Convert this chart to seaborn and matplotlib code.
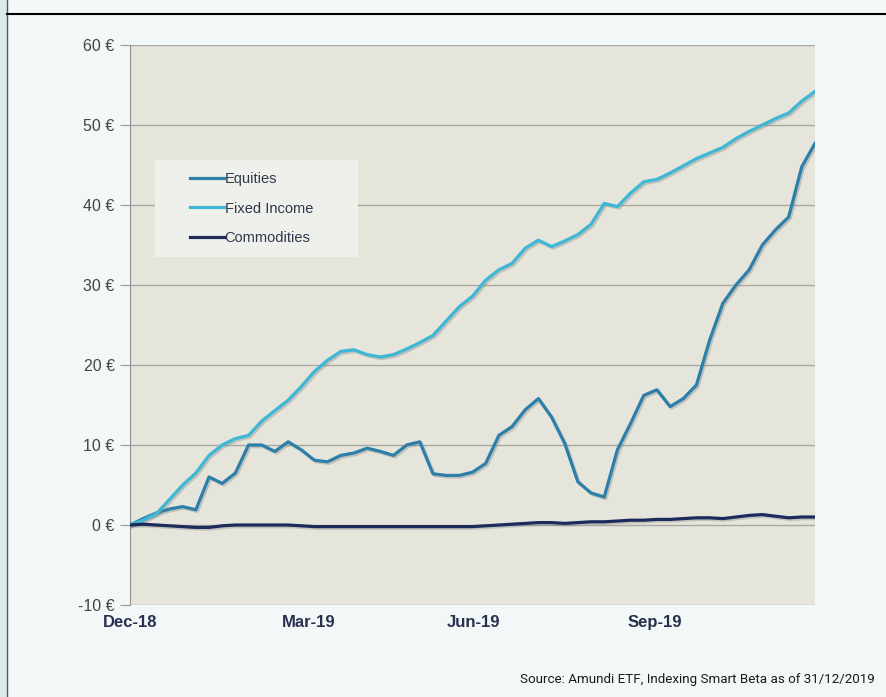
import numpy as np
import pandas as pd
import seaborn as sns
import matplotlib.pyplot as plt
import matplotlib.patheffects as pe
from matplotlib.patches import Rectangle
from matplotlib.lines import Line2D

# weekly values, Dec-18 .. Dec-19 (53 points)
equities = [0, 0.8, 1.5, 2.0, 2.3, 1.9, 6.0, 5.2, 6.5, 10.0,
            10.0, 9.2, 10.4, 9.4, 8.1, 7.9, 8.7, 9.0, 9.6, 9.2,
            8.7, 10.0, 10.4, 6.4, 6.2, 6.2, 6.6, 7.7, 11.2, 12.3,
            14.4, 15.8, 13.5, 10.2, 5.4, 4.0, 3.5, 9.4, 12.7, 16.2,
            16.9, 14.8, 15.8, 17.5, 23.1, 27.7, 30.0, 31.9, 35.0, 36.9,
            38.5, 44.8, 47.7]
fixed_income = [0, 0.6, 1.4, 3.2, 5.0, 6.5, 8.7, 10.0, 10.8, 11.2,
                13.0, 14.3, 15.6, 17.3, 19.2, 20.6, 21.7, 21.9, 21.3, 21.0,
                21.3, 22.0, 22.8, 23.7, 25.5, 27.3, 28.6, 30.6, 31.9, 32.7,
                34.6, 35.6, 34.8, 35.5, 36.3, 37.6, 40.2, 39.8, 41.5, 42.9,
                43.2, 44.0, 44.9, 45.8, 46.5, 47.2, 48.3, 49.2, 50.0, 50.8,
                51.5, 53.0, 54.2]
commodities = [0, 0.1, 0, -0.1, -0.2, -0.3, -0.3, -0.1, 0, 0,
               0, 0, 0, -0.1, -0.2, -0.2, -0.2, -0.2, -0.2, -0.2,
               -0.2, -0.2, -0.2, -0.2, -0.2, -0.2, -0.2, -0.1, 0, 0.1,
               0.2, 0.3, 0.3, 0.2, 0.3, 0.4, 0.4, 0.5, 0.6, 0.6,
               0.7, 0.7, 0.8, 0.9, 0.9, 0.8, 1.0, 1.2, 1.3, 1.1,
               0.9, 1.0, 1.0]
series_names = ["Equities", "Fixed Income", "Commodities"]
series_colors = ["#2b7fa8", "#3cb8d6", "#1d2a5c"]
x_ticks = [0, 13.6, 26.1, 39.8]
x_labels = ["Dec-18", "Mar-19", "Jun-19", "Sep-19"]
y_ticks = [-10, 0, 10, 20, 30, 40, 50, 60]

weeks = np.arange(len(equities))
df = pd.concat([
    pd.DataFrame({"week": weeks, "value": v, "series": n})
    for n, v in zip(series_names, [equities, fixed_income, commodities])
])

bg = "#f2f8f8"
fig = plt.figure(figsize=(8.87, 6.97), dpi=100, facecolor=bg)

# frame of the page: left strip + top rule
fig.patches.append(Rectangle((0, 0), 7 / 887, 1, transform=fig.transFigure,
                             facecolor="#dce8ea", edgecolor="none"))
fig.add_artist(Line2D([7 / 887, 7 / 887], [0, 1], transform=fig.transFigure,
                      color="#556", lw=1))
fig.add_artist(Line2D([7 / 887, 1], [1 - 14 / 697, 1 - 14 / 697],
                      transform=fig.transFigure, color="black", lw=1.5))

ax = fig.add_axes([130 / 887, 92 / 697, 685 / 887, 560 / 697])
ax.set_facecolor("#e5e5dc")

sns.lineplot(data=df, x="week", y="value", hue="series", hue_order=series_names,
             palette=series_colors, linewidth=2.3, ax=ax, legend=False)
for ln in ax.get_lines():
    ln.set_path_effects([pe.SimpleLineShadow(offset=(1.2, -1.2), shadow_color="#808080", alpha=0.35),
                         pe.Normal()])
    ln.set_zorder(4)

ax.set_xlim(0, 52)
ax.set_ylim(-10, 60)
ax.set_yticks(y_ticks)
ax.set_yticklabels([f"{t} €" for t in y_ticks], fontsize=11.5, color="#444444",
                   family="Liberation Sans")
ax.set_xticks(x_ticks)
ax.set_xticklabels(x_labels, fontsize=12, fontweight="bold", color="#2a2f4e",
                   family="Liberation Sans")
ax.tick_params(axis="x", length=0, pad=7)
ax.tick_params(axis="y", length=7, color="#999999", pad=4)
ax.grid(axis="y", color="#a9a9a2", lw=1)
ax.set_axisbelow(True)
ax.set_xlabel("")
ax.set_ylabel("")
for s in ["top", "right", "bottom"]:
    ax.spines[s].set_visible(False)
ax.spines["left"].set_color("#8f8f8f")

# legend box
ax.add_patch(Rectangle(((155 - 130) / 685, (605 - 257) / 560), 203 / 685, 97 / 560,
                       transform=ax.transAxes, facecolor="#eef0eb", edgecolor="none",
                       zorder=2))
handles = [Line2D([], [], color=c, lw=2.3) for c in series_colors]
leg = ax.legend(handles, series_names, loc="upper left",
                bbox_to_anchor=((183 - 130) / 685, (605 - 165) / 560),
                frameon=False, handlelength=2.3, handletextpad=0.05,
                labelspacing=1.05, borderpad=0, prop={"family": "Liberation Sans", "size": 10.5})
for t in leg.get_texts():
    t.set_color("#33364a")
leg.set_zorder(5)

fig.text(875 / 887, 1 - 680 / 697, "Source: Amundi ETF, Indexing Smart Beta as of 31/12/2019",
         ha="right", va="center", fontsize=9.6, color="#1a1a1a",
         family=["Roboto", "DejaVu Sans"])

fig.savefig("out.png", dpi=100, facecolor=bg)
